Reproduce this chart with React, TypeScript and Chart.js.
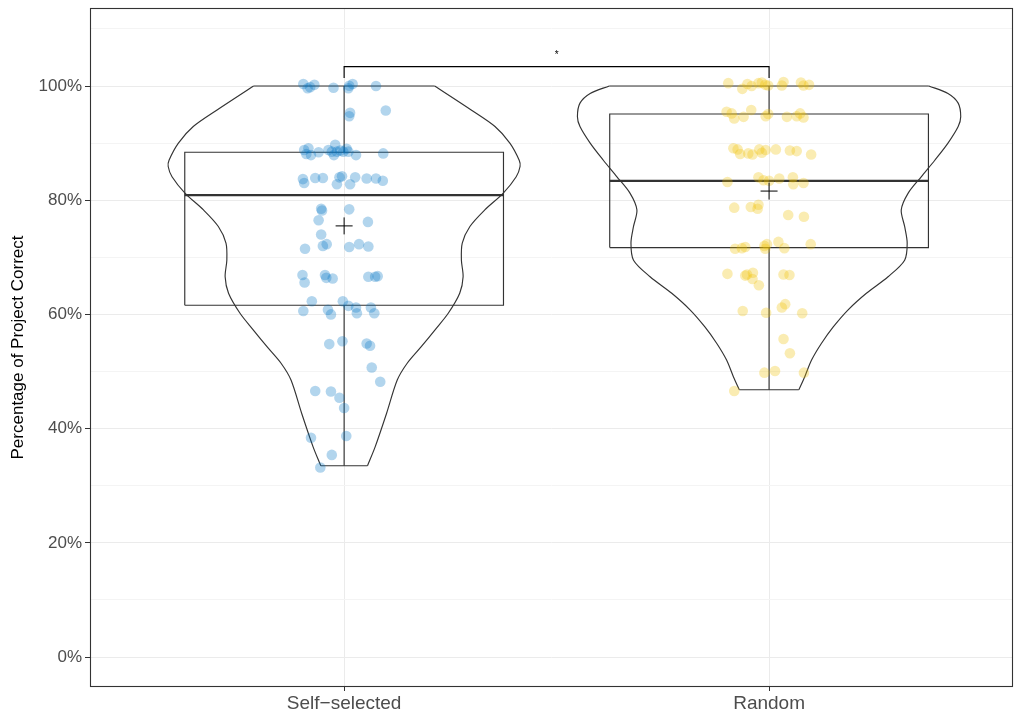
import React, { useEffect, useRef } from "react";
import { Chart, registerables } from "chart.js";

Chart.register(...registerables);

// ---------- data ----------
const categories = ["Self\u2212selected", "Random"];
const yTickValues = [0, 10, 20, 30, 40, 50, 60, 70, 80, 90, 100, 110];
const yAxisTitle = "Percentage of Project Correct";

const selfValues = [
  100.35, 99.6, 99.8, 100.2, 99.7, 99.6, 100.05, 100.35, 100.0, 95.3, 94.7, 95.7,
  88.8, 88.1, 89.1, 87.9, 88.4, 88.8, 88.5, 89.7, 87.9, 88.5, 88.7, 88.5, 89.0, 88.5, 87.9, 88.2,
  83.7, 83.0, 83.9, 83.9, 84.0, 84.2, 82.8, 82.8, 84.0, 83.8, 83.8, 83.4,
  78.5, 78.2, 78.4, 76.5, 76.2, 74.0, 72.0, 72.3, 71.5, 71.8, 72.3, 71.9,
  66.9, 65.6, 66.9, 66.4, 66.3, 66.6, 66.6, 66.7,
  62.3, 60.6, 62.3, 61.5, 60.8, 60.0, 61.2, 60.2, 61.2, 60.2,
  54.8, 55.3, 54.9, 54.5, 50.7, 48.2, 46.6, 46.5, 45.4, 43.6, 38.4, 38.7, 35.4, 33.2,
];
const selfJitter = [
  -0.096, -0.086, -0.08, -0.07, -0.025, 0.01, 0.012, 0.02, 0.075, 0.014, 0.012, 0.098,
  -0.094, -0.089, -0.084, -0.078, -0.06, -0.037, -0.029, -0.021, -0.024, -0.017, -0.009, -0.002, 0.006, 0.01, 0.028, 0.092,
  -0.097, -0.094, -0.068, -0.05, -0.011, -0.005, -0.017, 0.014, 0.026, 0.053, 0.075, 0.091,
  -0.054, -0.052, 0.012, -0.06, 0.056, -0.054, -0.05, -0.041, -0.092, 0.012, 0.035, 0.057,
  -0.098, -0.093, -0.045, -0.042, -0.027, 0.057, 0.073, 0.079,
  -0.076, -0.096, -0.003, 0.01, -0.038, -0.031, 0.028, 0.03, 0.063, 0.071,
  -0.035, -0.004, 0.053, 0.061, 0.065, 0.085, -0.068, -0.031, -0.011, 0.0, -0.078, 0.005, -0.029, -0.056,
];

const randomValues = [
  100.5, 99.5, 100.35, 100.0, 100.5, 100.6, 100.2, 100.1, 100.1, 100.7, 100.6, 100.1, 100.2,
  95.5, 95.2, 94.3, 94.6, 95.8, 94.7, 95.1, 94.6, 94.7, 95.2, 94.5,
  89.1, 88.9, 88.1, 88.2, 88.0, 88.9, 88.3, 88.8, 88.9, 88.7, 88.6, 88.0,
  83.2, 84.0, 83.5, 83.4, 83.8, 84.0, 82.8, 83.0,
  78.7, 78.8, 79.2, 78.5, 77.4, 77.1,
  71.5, 71.6, 71.8, 72.0, 72.3, 71.5, 72.7, 71.6, 72.3,
  67.1, 66.8, 67.0, 67.3, 66.2, 65.1, 67.0, 66.9,
  60.6, 60.3, 61.2, 61.8, 60.2,
  55.7, 53.2, 49.8, 50.1, 49.8, 46.6,
];
const randomJitter = [
  -0.096, -0.063, -0.051, -0.041, -0.025, -0.017, -0.009, -0.002, 0.03, 0.034, 0.075, 0.081, 0.094,
  -0.1, -0.088, -0.082, -0.06, -0.042, -0.008, -0.002, 0.042, 0.065, 0.073, 0.081,
  -0.084, -0.074, -0.068, -0.049, -0.039, -0.023, -0.017, -0.008, 0.016, 0.049, 0.065, 0.099,
  -0.098, -0.025, -0.013, 0.0, 0.024, 0.056, 0.057, 0.081,
  -0.082, -0.043, -0.025, -0.027, 0.045, 0.082,
  -0.08, -0.064, -0.056, -0.011, -0.005, -0.009, 0.022, 0.036, 0.098,
  -0.098, -0.056, -0.052, -0.038, -0.039, -0.024, 0.034, 0.048,
  -0.062, -0.007, 0.03, 0.038, 0.078,
  0.034, 0.049, -0.011, 0.014, 0.082, -0.082,
];

// boxplot statistics (Self-selected, Random)
const boxMin = [33.5, 46.8];
const boxQ1 = [61.6, 71.7];
const boxMedian = [80.9, 83.4];
const boxQ3 = [88.4, 95.1];
const boxMax = [100, 100];
const groupMeans = [75.5, 81.6];

// violin outlines: level (%) and half-width (category units)
const selfViolinLevels = [33.5, 36.8, 42.7, 48.5, 51.4, 54.3, 57.3, 60.2, 63.7, 66.6, 69.5, 72.5, 75.4, 78.3, 81.2, 84.1, 85.9, 87.0, 90.0, 92.9, 95.8, 100];
const selfViolinHalfWidth = [0.055, 0.073, 0.1, 0.125, 0.148, 0.181, 0.214, 0.245, 0.272, 0.28, 0.276, 0.278, 0.296, 0.331, 0.374, 0.405, 0.414, 0.412, 0.39, 0.355, 0.299, 0.213];
const randomViolinLevels = [46.8, 49.1, 52.0, 54.9, 57.8, 60.8, 63.7, 66.6, 69.5, 72.5, 75.4, 78.3, 81.2, 84.1, 87.0, 90.0, 92.9, 94.6, 97.0, 98.7, 100];
const randomViolinHalfWidth = [0.07, 0.084, 0.1, 0.123, 0.151, 0.186, 0.229, 0.28, 0.319, 0.325, 0.319, 0.311, 0.327, 0.358, 0.39, 0.421, 0.445, 0.451, 0.445, 0.421, 0.376];

// significance bracket
const bracketLevel = 103.4;
const bracketTickLevel = 101.4;
const sigLabelLevel = 105.3;
const sigLabel = "*";

// ---------- component ----------
export default function App() {
  const ref = useRef<HTMLCanvasElement>(null);

  useEffect(() => {
    const canvas = ref.current;
    if (!canvas) return;
    const lineColor = "#333333";
    const boxHalf = 0.375;
    const font = '"Liberation Sans", Arial, Helvetica, sans-serif';

    const lineDs = (data: any[], order: number, opts: any = {}) => ({
      type: "scatter",
      data,
      showLine: true,
      borderColor: lineColor,
      borderWidth: 1.15,
      pointRadius: 0,
      pointHoverRadius: 0,
      tension: 0,
      fill: false,
      order,
      ...opts,
    });

    const datasets: any[] = [];
    const violins = [
      { levels: selfViolinLevels, hw: selfViolinHalfWidth },
      { levels: randomViolinLevels, hw: randomViolinHalfWidth },
    ];
    violins.forEach((v, g) => {
      const c = g + 1;
      const n = v.levels.length;
      datasets.push(lineDs(v.levels.map((lv, i) => ({ x: c - v.hw[i], y: lv })), 60, { tension: 0.3 }));
      datasets.push(lineDs(v.levels.map((lv, i) => ({ x: c + v.hw[i], y: lv })), 60, { tension: 0.3 }));
      datasets.push(lineDs([{ x: c - v.hw[n - 1], y: v.levels[n - 1] }, { x: c + v.hw[n - 1], y: v.levels[n - 1] }], 60));
      datasets.push(lineDs([{ x: c - v.hw[0], y: v.levels[0] }, { x: c + v.hw[0], y: v.levels[0] }], 60));
    });

    [0, 1].forEach((g) => {
      const c = g + 1;
      datasets.push(lineDs([
        { x: c - boxHalf, y: boxQ1[g] }, { x: c + boxHalf, y: boxQ1[g] },
        { x: c + boxHalf, y: boxQ3[g] }, { x: c - boxHalf, y: boxQ3[g] },
        { x: c - boxHalf, y: boxQ1[g] },
      ], 50));
      datasets.push(lineDs([{ x: c, y: boxQ3[g] }, { x: c, y: boxMax[g] }], 50));
      datasets.push(lineDs([{ x: c, y: boxQ1[g] }, { x: c, y: boxMin[g] }], 50));
      datasets.push(lineDs([{ x: c - boxHalf, y: boxMedian[g] }, { x: c + boxHalf, y: boxMedian[g] }], 50, { borderWidth: 2.3 }));
    });

    datasets.push({
      type: "scatter",
      data: selfValues.map((v, i) => ({ x: 1 + selfJitter[i], y: v })),
      backgroundColor: "rgba(0,115,194,0.3)",
      borderWidth: 0,
      pointRadius: 5.3,
      pointHoverRadius: 5.3,
      order: 30,
    });
    datasets.push({
      type: "scatter",
      data: randomValues.map((v, i) => ({ x: 2 + randomJitter[i], y: v })),
      backgroundColor: "rgba(239,192,0,0.3)",
      borderWidth: 0,
      pointRadius: 5.3,
      pointHoverRadius: 5.3,
      order: 30,
    });

    datasets.push({
      type: "scatter",
      data: groupMeans.map((m, g) => ({ x: g + 1, y: m })),
      pointStyle: "cross",
      pointRadius: 8.5,
      pointHoverRadius: 8.5,
      borderColor: "#000000",
      backgroundColor: "#000000",
      borderWidth: 1,
      order: 10,
    });

    datasets.push(lineDs([
      { x: 1, y: bracketTickLevel }, { x: 1, y: bracketLevel },
      { x: 2, y: bracketLevel }, { x: 2, y: bracketTickLevel },
    ], 20, { borderColor: "#000000" }));

    const annot = {
      id: "annot",
      afterDatasetsDraw(chart: any) {
        const { ctx, scales, chartArea: a } = chart;
        ctx.save();
        ctx.fillStyle = "#000000";
        ctx.font = `10px ${font}`;
        ctx.textAlign = "center";
        ctx.textBaseline = "middle";
        ctx.fillText(sigLabel, scales.x.getPixelForValue(1.5), scales.y.getPixelForValue(sigLabelLevel));
        ctx.strokeStyle = lineColor;
        ctx.lineWidth = 1.1;
        ctx.strokeRect(a.left + 0.5, a.top + 0.5, a.right - a.left - 1, a.bottom - a.top - 1);
        ctx.restore();
      },
    };

    const chart = new Chart(canvas, {
      type: "scatter",
      data: { datasets },
      plugins: [annot],
      options: {
        animation: false,
        responsive: true,
        maintainAspectRatio: false,
        events: [],
        layout: { autoPadding: false, padding: { left: 0, right: 1, top: 8, bottom: 0 } },
        plugins: { legend: { display: false }, tooltip: { enabled: false } },
        scales: {
          x: {
            type: "linear",
            min: 0.402,
            max: 2.574,
            afterBuildTicks: (scale: any) => {
              scale.ticks = categories.map((_, i) => ({ value: i + 1 }));
            },
            afterFit: (scale: any) => {
              scale.height = 26;
              scale.paddingLeft = 0;
              scale.paddingRight = 0;
              scale.paddingTop = 0;
              scale.paddingBottom = 0;
            },
            border: { display: false },
            grid: {
              color: "#ebebeb",
              lineWidth: 1,
              tickLength: 4,
              tickColor: lineColor,
            },
            ticks: {
              callback: (v: any) => categories[Math.round(v) - 1] ?? "",
              color: "#4d4d4d",
              font: { family: font, size: 19 },
              padding: 1,
              maxRotation: 0,
              autoSkip: false,
            },
          },
          y: {
            type: "linear",
            min: -5.25,
            max: 113.66,
            afterBuildTicks: (scale: any) => {
              scale.ticks = yTickValues.map((v) => ({ value: v }));
            },
            afterFit: (scale: any) => {
              scale.width = 90;
              scale.paddingLeft = 0;
              scale.paddingRight = 0;
              scale.paddingTop = 0;
              scale.paddingBottom = 0;
            },
            border: { display: false },
            grid: {
              color: (ctx: any) => (ctx.tick && ctx.tick.value % 20 === 0 ? "#ebebeb" : "#f4f4f4"),
              lineWidth: 1,
              tickLength: 5,
              tickColor: (ctx: any) => (ctx.tick && ctx.tick.value % 20 === 0 && ctx.tick.value <= 100 ? lineColor : "rgba(0,0,0,0)"),
            },
            ticks: {
              callback: (v: any) => (v % 20 === 0 && v <= 100 ? `${v}%` : ""),
              color: "#4d4d4d",
              font: { family: font, size: 17 },
              padding: 3,
              autoSkip: false,
            },
            title: {
              display: true,
              text: yAxisTitle,
              color: "#000000",
              font: { family: font, size: 17 },
              padding: { top: 8, bottom: 0 },
            },
          },
        },
      } as any,
    } as any);

    return () => chart.destroy();
  }, []);

  return (
    <div style={{ position: "fixed", left: 0, top: 0, width: 1014, height: 713, background: "#ffffff" }}>
      <canvas ref={ref} />
    </div>
  );
}
